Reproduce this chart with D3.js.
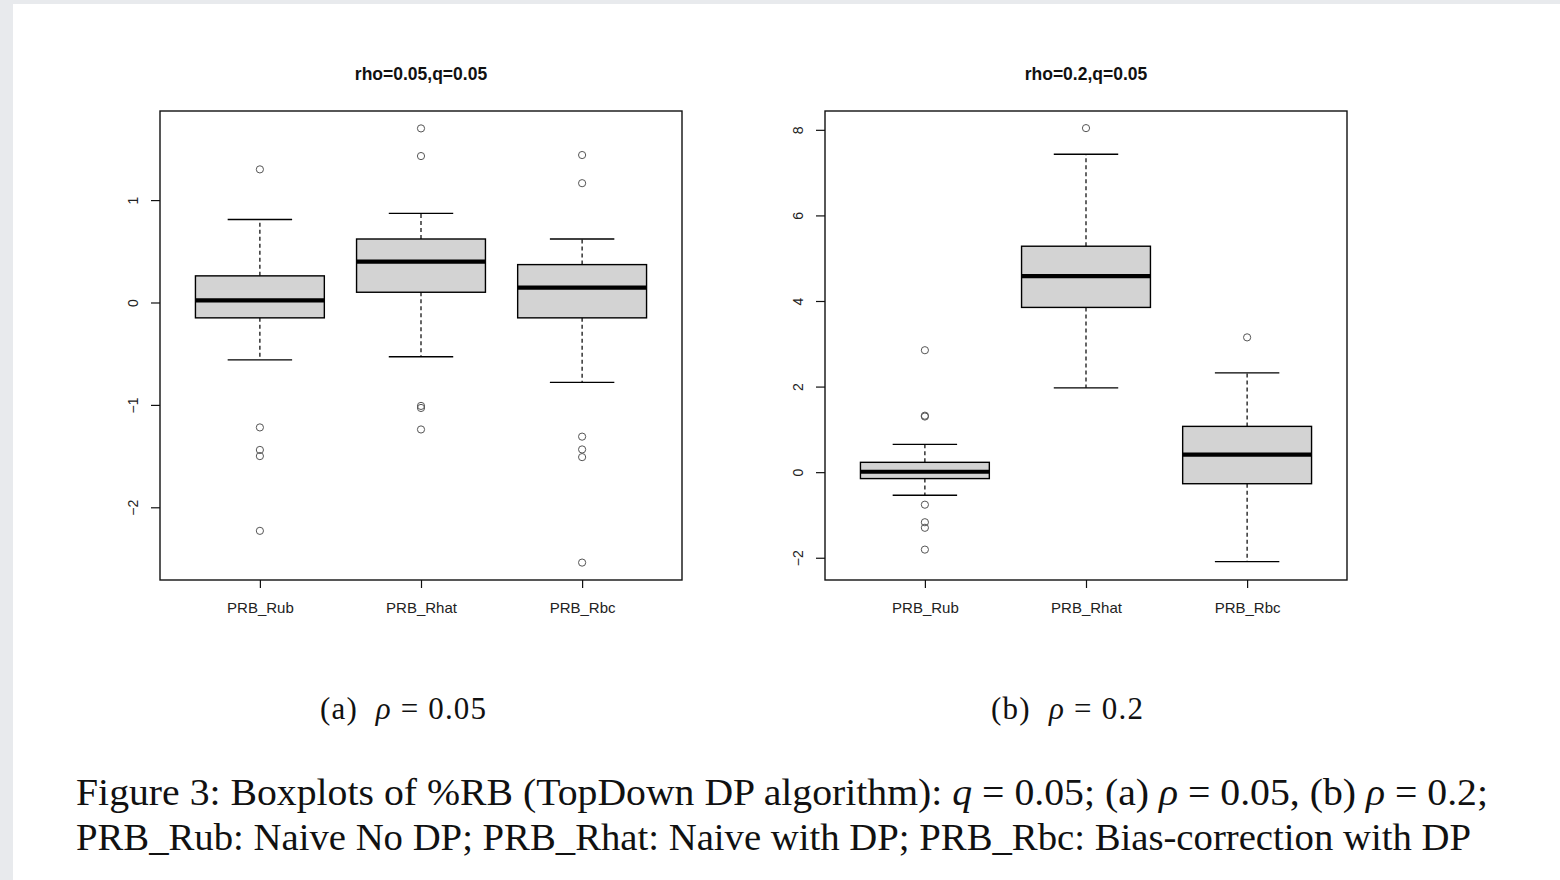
<!DOCTYPE html>
<html>
<head>
<meta charset="utf-8">
<script src="https://cdn.jsdelivr.net/npm/d3@7"></script>
<style>
  body { margin: 0; background: #fff; }
  svg { display: block; }
</style>
</head>
<body>
<svg id="chart" width="1560" height="880"></svg>
<script>
// categories shared by both panels
const groups = ['PRB_Rub', 'PRB_Rhat', 'PRB_Rbc'];

// panel (a): rho=0.05, q=0.05  -> [lowWhisker, q1, median, q3, highWhisker]
const statsA = [
    [-0.56, -0.15, 0.02, 0.26, 0.81],
    [-0.53, 0.10, 0.40, 0.62, 0.87],
    [-0.78, -0.15, 0.145, 0.37, 0.62]
];
const outliersA = [
    [1.30, -1.22, -1.44, -1.50, -2.23],
    [1.70, 1.43, -1.01, -1.03, -1.24],
    [1.44, 1.165, -1.31, -1.435, -1.51, -2.54]
];
const ticksA = [-2, -1, 0, 1];

// panel (b): rho=0.2, q=0.05
const statsB = [
    [-0.54, -0.15, 0.01, 0.23, 0.65],
    [1.97, 3.85, 4.58, 5.28, 7.43],
    [-2.09, -0.27, 0.41, 1.07, 2.32]
];
const outliersB = [
    [2.85, 1.32, 1.30, -0.76, -1.17, -1.30, -1.81],
    [8.04],
    [3.15]
];
const ticksB = [-2, 0, 2, 4, 6, 8];

const svg = d3.select('#chart');

// page frame (light grey strips like the pdf viewer)
svg.append('rect').attr('x', 0).attr('y', 0).attr('width', 1560).attr('height', 880).attr('fill', '#fff');
svg.append('rect').attr('x', 0).attr('y', 0).attr('width', 1560).attr('height', 4).attr('fill', '#e8eaed');
svg.append('rect').attr('x', 0).attr('y', 0).attr('width', 13).attr('height', 880).attr('fill', '#e8eaed');

function drawPanel(opts) {
    const { left, title, stats, outliers, ticks, domain } = opts;
    const top = 111, bottom = 580, width = 522;

    const x = d3.scaleLinear().domain([0.38, 3.62]).range([left, left + width]);
    const y = d3.scaleLinear().domain(domain).range([bottom, top]);
    const g = svg.append('g');

    // Title
    g.append('text')
        .attr('x', left + width / 2)
        .attr('y', 80)
        .attr('text-anchor', 'middle')
        .attr('font-family', 'Liberation Sans, Arial, sans-serif')
        .attr('font-weight', 'bold')
        .attr('font-size', 17.5)
        .attr('fill', '#111')
        .text(title);

    // Boxes (R default boxwex 0.8, staplewex 0.5)
    const boxW = x(1.8) - x(1);
    const capW = boxW / 2;
    stats.forEach((s, i) => {
        const cx = x(i + 1);
        const [lo, q1, med, q3, hi] = s;

        // whiskers (dashed)
        g.append('line').attr('x1', cx).attr('x2', cx).attr('y1', y(q3)).attr('y2', y(hi))
            .attr('stroke', '#000').attr('stroke-width', 1.2).attr('stroke-dasharray', '4,3');
        g.append('line').attr('x1', cx).attr('x2', cx).attr('y1', y(q1)).attr('y2', y(lo))
            .attr('stroke', '#000').attr('stroke-width', 1.2).attr('stroke-dasharray', '4,3');

        // staples
        [lo, hi].forEach(v => {
            g.append('line').attr('x1', cx - capW / 2).attr('x2', cx + capW / 2)
                .attr('y1', y(v)).attr('y2', y(v))
                .attr('stroke', '#000').attr('stroke-width', 1.4);
        });

        // box
        g.append('rect')
            .attr('x', cx - boxW / 2)
            .attr('y', y(q3))
            .attr('width', boxW)
            .attr('height', y(q1) - y(q3))
            .attr('fill', '#d3d3d3')
            .attr('stroke', '#000')
            .attr('stroke-width', 1.4);

        // median
        g.append('line').attr('x1', cx - boxW / 2).attr('x2', cx + boxW / 2)
            .attr('y1', y(med)).attr('y2', y(med))
            .attr('stroke', '#000').attr('stroke-width', 4.2);

        // outliers
        g.selectAll(null)
            .data(outliers[i])
            .enter()
            .append('circle')
            .attr('cx', cx)
            .attr('cy', d => y(d))
            .attr('r', 3.6)
            .attr('fill', 'none')
            .attr('stroke', '#555')
            .attr('stroke-width', 1);
    });

    // Plot frame
    g.append('rect')
        .attr('x', left).attr('y', top)
        .attr('width', width).attr('height', bottom - top)
        .attr('fill', 'none')
        .attr('stroke', '#111')
        .attr('stroke-width', 1.4);

    // Y axis (R style: rotated labels)
    const yAxis = g.append('g')
        .attr('transform', `translate(${left},0)`)
        .call(d3.axisLeft(y).tickValues(ticks).tickSize(9).tickPadding(0));
    yAxis.select('.domain').remove();
    yAxis.selectAll('.tick line').attr('stroke', '#111').attr('stroke-width', 1.2);
    yAxis.selectAll('.tick text').remove();
    yAxis.selectAll('.tick').append('text')
        .attr('transform', 'translate(-27,0) rotate(-90)')
        .attr('text-anchor', 'middle')
        .attr('dy', '0.35em')
        .attr('fill', '#222')
        .attr('font-family', 'Liberation Sans, Arial, sans-serif')
        .attr('font-size', 14)
        .text(d => d < 0 ? '\u2212' + Math.abs(d) : d);

    // X axis
    const xAxis = g.append('g')
        .attr('transform', `translate(0,${bottom})`)
        .call(d3.axisBottom(x).tickValues([1, 2, 3]).tickSize(8).tickPadding(14)
            .tickFormat((d, i) => groups[i]));
    xAxis.select('.domain').remove();
    xAxis.selectAll('.tick line').attr('stroke', '#111').attr('stroke-width', 1.2);
    xAxis.selectAll('.tick text')
        .attr('fill', '#222')
        .attr('font-family', 'Liberation Sans, Arial, sans-serif')
        .attr('font-size', 15);
}

drawPanel({
    left: 160,
    title: 'rho=0.05,q=0.05',
    stats: statsA,
    outliers: outliersA,
    ticks: ticksA,
    domain: [-2.71, 1.87]
});

drawPanel({
    left: 825,
    title: 'rho=0.2,q=0.05',
    stats: statsB,
    outliers: outliersB,
    ticks: ticksB,
    domain: [-2.52, 8.44]
});

// Sub captions and figure caption (serif, LaTeX look)
const serif = 'Liberation Serif, Times New Roman, serif';

function subCaption(cx, label, value, targetW) {
    const t = svg.append('text')
        .attr('x', cx)
        .attr('y', 719)
        .attr('text-anchor', 'middle')
        .attr('font-family', serif)
        .attr('font-size', 31)
        .attr('fill', '#111');
    t.append('tspan').text(label + '\u00a0\u00a0');
    t.append('tspan').attr('font-style', 'italic').text('\u03c1');
    t.append('tspan').text('\u00a0=\u00a0' + value);
    t.attr('textLength', targetW).attr('lengthAdjust', 'spacing');
}
subCaption(403, '(a)', '0.05', 166);
subCaption(1067, '(b)', '0.2', 152);

function captionLine(y, parts, targetW) {
    const t = svg.append('text')
        .attr('x', 76)
        .attr('y', y)
        .attr('font-family', serif)
        .attr('font-size', 37)
        .attr('fill', '#111');
    parts.forEach(p => {
        t.append('tspan').attr('font-style', p[1] ? 'italic' : null).text(p[0]);
    });
    t.attr('textLength', targetW).attr('lengthAdjust', 'spacingAndGlyphs');
}

captionLine(805, [
    ['Figure 3: Boxplots of %RB (TopDown DP algorithm): '], ['q', true], [' = 0.05; (a) '],
    ['\u03c1', true], [' = 0.05, (b) '], ['\u03c1', true], [' = 0.2;']
], 1412);
captionLine(850, [
    ['PRB_Rub: Naive No DP; PRB_Rhat: Naive with DP; PRB_Rbc: Bias-correction with DP']
], 1395);
</script>
</body>
</html>
